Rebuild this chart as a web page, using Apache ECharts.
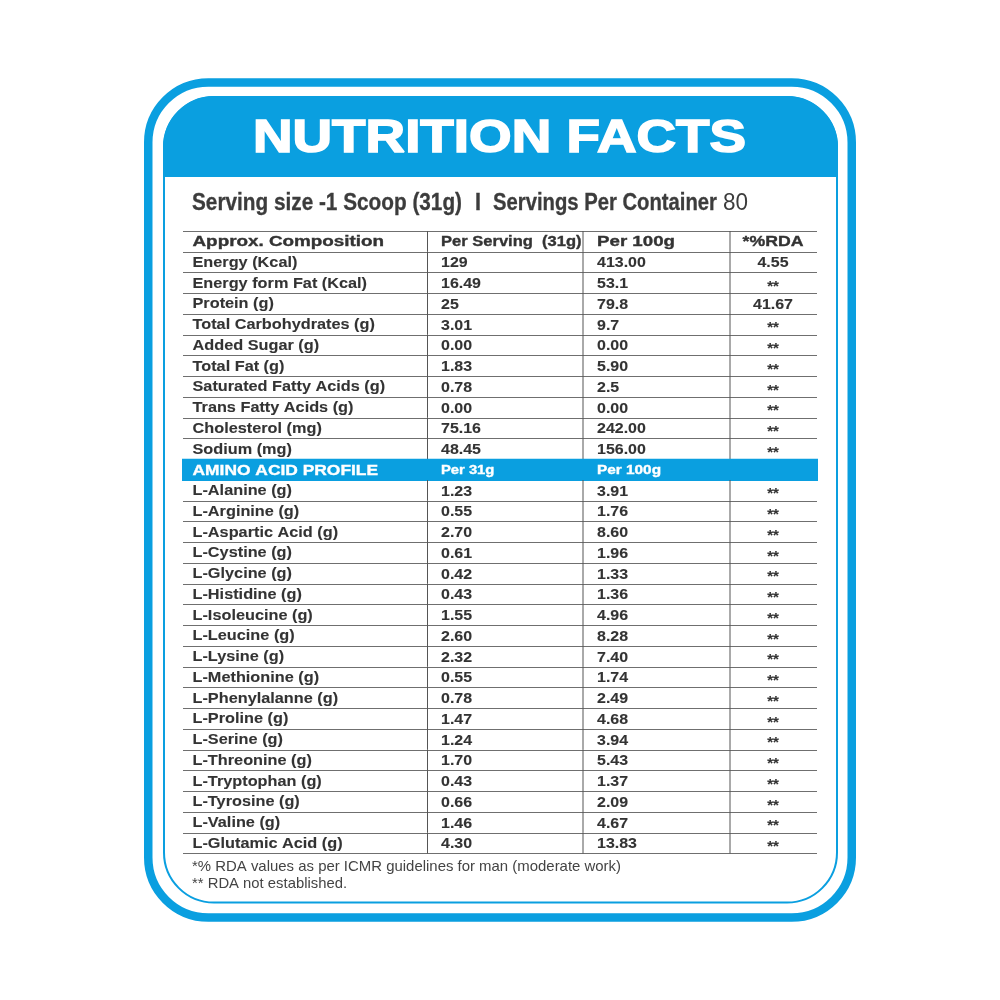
<!DOCTYPE html>
<html>
<head>
<meta charset="utf-8">
<style>
  html, body { margin: 0; padding: 0; background: #fff; }
  #main { width: 1000px; height: 1000px; }
</style>
<script src="https://cdn.jsdelivr.net/npm/echarts@6/dist/echarts.min.js"></script>
</head>
<body>
<div id="main"></div>
<script>
// table contents
var headerCells = ['Approx. Composition', 'Per Serving  (31g)', 'Per 100g', '*%RDA'];
var compositionNames = ['Energy (Kcal)', 'Energy form Fat (Kcal)', 'Protein (g)', 'Total Carbohydrates (g)', 'Added Sugar (g)', 'Total Fat (g)', 'Saturated Fatty Acids (g)', 'Trans Fatty Acids (g)', 'Cholesterol (mg)', 'Sodium (mg)'];
var compositionPerServing = ['129', '16.49', '25', '3.01', '0.00', '1.83', '0.78', '0.00', '75.16', '48.45'];
var compositionPer100g = ['413.00', '53.1', '79.8', '9.7', '0.00', '5.90', '2.5', '0.00', '242.00', '156.00'];
var compositionRda = ['4.55', '**', '41.67', '**', '**', '**', '**', '**', '**', '**'];
var aminoCells = ['AMINO ACID PROFILE', 'Per 31g', 'Per 100g', ''];
var aminoNames = ['L-Alanine (g)', 'L-Arginine (g)', 'L-Aspartic Acid (g)', 'L-Cystine (g)', 'L-Glycine (g)', 'L-Histidine (g)', 'L-Isoleucine (g)', 'L-Leucine (g)', 'L-Lysine (g)', 'L-Methionine (g)', 'L-Phenylalanne (g)', 'L-Proline (g)', 'L-Serine (g)', 'L-Threonine (g)', 'L-Tryptophan (g)', 'L-Tyrosine (g)', 'L-Valine (g)', 'L-Glutamic Acid (g)'];
var aminoPer31g = ['1.23', '0.55', '2.70', '0.61', '0.42', '0.43', '1.55', '2.60', '2.32', '0.55', '0.78', '1.47', '1.24', '1.70', '0.43', '0.66', '1.46', '4.30'];
var aminoPer100g = ['3.91', '1.76', '8.60', '1.96', '1.33', '1.36', '4.96', '8.28', '7.40', '1.74', '2.49', '4.68', '3.94', '5.43', '1.37', '2.09', '4.67', '13.83'];
var aminoRda = aminoNames.map(function () { return '**'; });
var footnotes = ['*% RDA values as per ICMR guidelines for man (moderate work)', '** RDA not established.'];

var BLUE = '#0a9fe0';
var TEXT = '#333333';
var SANS = '"Liberation Sans", Arial, sans-serif';

var rows = [headerCells];
compositionNames.forEach(function (n, i) {
    rows.push([n, compositionPerServing[i], compositionPer100g[i], compositionRda[i]]);
});
rows.push(aminoCells);
aminoNames.forEach(function (n, i) {
    rows.push([n, aminoPer31g[i], aminoPer100g[i], aminoRda[i]]);
});
var bandRow = compositionNames.length + 1;

// column edges on the x axis, counted from the table's left edge
var dividers = [244.5, 400, 547];
var textStart = [9.5, 258, 414, 590];
var headScale = [1.3, 1.14, 1.29, 1.22];
var bandScale = [1.16, 1.23, 1.28, 1];

var measure = document.createElement('canvas').getContext('2d');
function fit(text, font, width) {
    measure.font = font;
    return width / measure.measureText(text).width;
}

function renderRow(params, api) {
    var r = api.value(0);
    var cells = rows[r];
    var cy = api.coord([0, r])[1];
    var h = api.size([0, 1])[1];
    var children = [];
    if (r === bandRow) {
        var l = api.coord([-1, r]);
        var e = api.coord([635, r]);
        children.push({
            type: 'rect',
            shape: { x: l[0], y: cy - h / 2 - 0.5, width: e[0] - l[0], height: h + 1.5 },
            style: { fill: BLUE }
        });
    } else {
        dividers.forEach(function (d) {
            var x = api.coord([d, r])[0];
            children.push({
                type: 'line',
                shape: { x1: x, y1: cy - h / 2, x2: x, y2: cy + h / 2 },
                style: { stroke: '#555', lineWidth: 1 }
            });
        });
    }
    cells.forEach(function (t, c) {
        if (!t) return;
        var isHead = r === 0;
        var isBand = r === bandRow;
        var size = 15.5, sx = 1.03;
        if (isHead) { size = 14.5; sx = headScale[c]; }
        if (isBand) { size = c === 0 ? 15 : 12; sx = bandScale[c]; }
        if (!isHead && !isBand && c === 0) { size = 15.5; sx = 1.05; }
        var x = api.coord([textStart[c], r])[0];
        var stars = t === '**';
        var shift = (c === 0 && !isHead && !isBand) ? 0.4 : 1;
        children.push({
            type: 'text',
            x: x,
            y: cy + shift + (stars ? 3 : 0),
            scaleX: sx,
            style: {
                text: t,
                x: 0,
                y: 0,
                fill: isBand ? '#fff' : TEXT,
                stroke: isBand ? '#fff' : TEXT,
                lineWidth: isHead || isBand ? 0.35 : 0.1,
                font: 'bold ' + (stars ? 14.5 : size) + 'px ' + SANS,
                align: c === 3 ? 'center' : 'left',
                verticalAlign: 'middle'
            }
        });
    });
    return { type: 'group', children: children };
}

var servingFont = 'bold 23px ' + SANS;
var titleFont = 'bold 46px ' + SANS;

function label(text, font, x, y, width, fill, heavy) {
    return {
        type: 'text',
        x: x,
        y: y,
        z: 5,
        scaleX: fit(text, font, width),
        style: { text: text, x: 0, y: 0, font: font, fill: fill, stroke: fill, lineWidth: heavy || 0, verticalAlign: 'middle' }
    };
}

var chart = echarts.init(document.getElementById('main'), null, { renderer: 'canvas' });
chart.setOption({
    backgroundColor: '#fff',
    animation: false,
    grid: { left: 183, top: 231, width: 634, height: 622.5, containLabel: false },
    xAxis: { type: 'value', min: 0, max: 634, show: false },
    yAxis: {
        type: 'category',
        inverse: true,
        data: rows.map(function (r) { return r[0]; }),
        axisLine: { show: false },
        axisTick: { show: false },
        axisLabel: { show: false },
        splitLine: { show: true, interval: 0, lineStyle: { color: '#6f6f6f', width: 1 } }
    },
    graphic: [
        { type: 'rect', z: 0, shape: { x: 148.25, y: 82.5, width: 703.5, height: 835, r: 60 }, style: { fill: '#fff', stroke: BLUE, lineWidth: 8.5 } },
        { type: 'rect', z: 0, shape: { x: 164, y: 97, width: 673, height: 805.5, r: 50 }, style: { fill: '#fff', stroke: BLUE, lineWidth: 2 } },
        { type: 'rect', z: 1, shape: { x: 163, y: 96, width: 675, height: 81, r: [51, 51, 0, 0] }, style: { fill: BLUE } },
        label('NUTRITION FACTS', titleFont, 253, 139, 493, '#fff', 1.6),
        label('Serving size -1 Scoop (31g)', servingFont, 192, 204, 270, '#3c3c3c', 0.3),
        label('I', servingFont, 475, 204, 6, '#3c3c3c', 0.3),
        label('Servings Per Container', servingFont, 493, 204, 224, '#3c3c3c', 0.3),
        label('80', '23px ' + SANS, 723, 204, 25, '#3c3c3c'),
        label(footnotes[0], '14.5px ' + SANS, 192, 867, 429, '#444'),
        label(footnotes[1], '14.5px ' + SANS, 192, 884, 155, '#444')
    ],
    series: [{
        type: 'custom',
        silent: true,
        z: 3,
        coordinateSystem: 'cartesian2d',
        renderItem: renderRow,
        encode: { y: 0 },
        data: rows.map(function (r, i) { return [i]; })
    }]
});
</script>
</body>
</html>
